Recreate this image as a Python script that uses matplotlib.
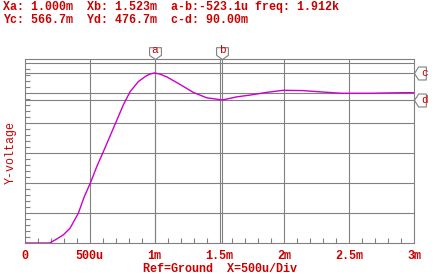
import matplotlib
matplotlib.use("Agg")
import matplotlib.pyplot as plt
from matplotlib.path import Path
from matplotlib.ticker import FixedLocator, MultipleLocator

# transient trace (time in ms, voltage in mV)
t_ms = [0.0, 0.19, 0.244, 0.295, 0.347, 0.411, 0.457, 0.506, 0.553, 0.62,
        0.681, 0.758, 0.81, 0.874, 0.938, 0.97, 1.0, 1.04, 1.092, 1.182,
        1.298, 1.401, 1.523, 1.632, 1.735, 1.864, 1.99, 2.14, 2.27, 2.44,
        2.66, 2.91, 3.0]
v_mv = [0.0, 0.0, 13, 27, 49, 99, 154, 202, 254, 320,
        382, 460, 504, 538, 558, 564, 566.7, 563, 554, 532,
        502, 484, 476.7, 487, 493, 502, 509, 508, 504, 499,
        499, 501, 501]

xa, xb = 1.000e-3, 1.523e-3          # cursors a/b (s)
yc, yd = 566.7e-3, 476.7e-3          # cursors c/d (V)
xticks = [0, 0.5e-3, 1e-3, 1.5e-3, 2e-3, 2.5e-3, 3e-3]
xticklabels = ["0", "500u", "1m", "1.5m", "2m", "2.5m", "3m"]
ygrid = [0.1, 0.2, 0.3, 0.4, 0.5, 0.6]
header = ["Xa: 1.000m  Xb: 1.523m  a-b:-523.1u freq: 1.912k",
          "Yc: 566.7m  Yd: 476.7m  c-d: 90.00m"]

RED = "#cc0000"
GRID = "#808080"
MONO = "Liberation Mono"

fig = plt.figure(figsize=(4.36, 2.74), dpi=100)
ax = fig.add_axes([25 / 436, 31 / 274, 389 / 436, 184 / 274])

t = [v * 1e-3 for v in t_ms]
v = [x * 1e-3 for x in v_mv]
ax.plot(t, v, color="#cc00cc", lw=1.0, zorder=3)

ax.set_xlim(0, 3e-3)
ax.set_ylim(0, 0.6133)

# grid + cursor lines
for x in xticks[1:-1] + [xa, xb]:
    ax.axvline(x, color=GRID, lw=0.8, zorder=1)
for y in ygrid + [yc, yd]:
    ax.axhline(y, color=GRID, lw=0.8, zorder=1)
for s in ax.spines.values():
    s.set_color(GRID)
    s.set_linewidth(0.8)

ax.xaxis.set_major_locator(FixedLocator(xticks))
ax.set_xticklabels(xticklabels, family=MONO, weight="bold", color=RED,
                   fontsize=8.5)
ax.yaxis.set_major_locator(FixedLocator(ygrid))
ax.xaxis.set_minor_locator(MultipleLocator(1e-4))
ax.yaxis.set_minor_locator(MultipleLocator(0.02))
ax.tick_params(axis="x", which="major", length=0, pad=5)
ax.tick_params(axis="y", which="major", length=0, labelleft=False)
ax.tick_params(axis="x", which="minor", direction="in", length=3.5,
               color=GRID, width=0.8, bottom=True, top=False)
ax.tick_params(axis="y", which="minor", direction="in", length=3.5,
               color=GRID, width=0.8, left=True, right=False)

ax.set_xlabel("Ref=Ground  X=500u/Div", family=MONO, weight="bold",
              color=RED, fontsize=8.5, labelpad=1)
ax.set_ylabel("Y-voltage", family=MONO, color=RED, fontsize=8.4)
ax.yaxis.set_label_coords(-8.5 / 389, 0.49)

# cursor flags
down = Path([(0, 0), (-0.5, 0.35), (-0.5, 1.0), (0.5, 1.0), (0.5, 0.35),
             (0, 0)], closed=True)
left = Path([(0, 0), (0.35, 0.55), (1.0, 0.55), (1.0, -0.55), (0.35, -0.55),
             (0, 0)], closed=True)
ymax = ax.get_ylim()[1]
for x, lab in ((xa, "a"), (xb, "b")):
    ax.plot([x], [ymax], marker=down, ms=17, mfc="white", mec=GRID, mew=0.8,
            clip_on=False, zorder=5)
    ax.annotate(lab, (x, ymax), xytext=(0, 6.5), textcoords="offset points",
                ha="center", va="center", color=RED, fontsize=8,
                family=MONO, zorder=6, annotation_clip=False)
for y, lab in ((yc, "c"), (yd, "d")):
    ax.plot([3e-3], [y], marker=left, ms=17, mfc="white", mec=GRID, mew=0.8,
            clip_on=False, zorder=5)
    ax.annotate(lab, (3e-3, y), xytext=(7.5, 0), textcoords="offset points",
                ha="center", va="center", color=RED, fontsize=8,
                family=MONO, zorder=6, annotation_clip=False)

for i, line in enumerate(header):
    fig.text(3 / 436, 1 - (7 + 13 * i) / 274, line, family=MONO,
             weight="bold", color=RED, fontsize=8.4, va="center", ha="left")

fig.savefig("out.png", dpi=100)
